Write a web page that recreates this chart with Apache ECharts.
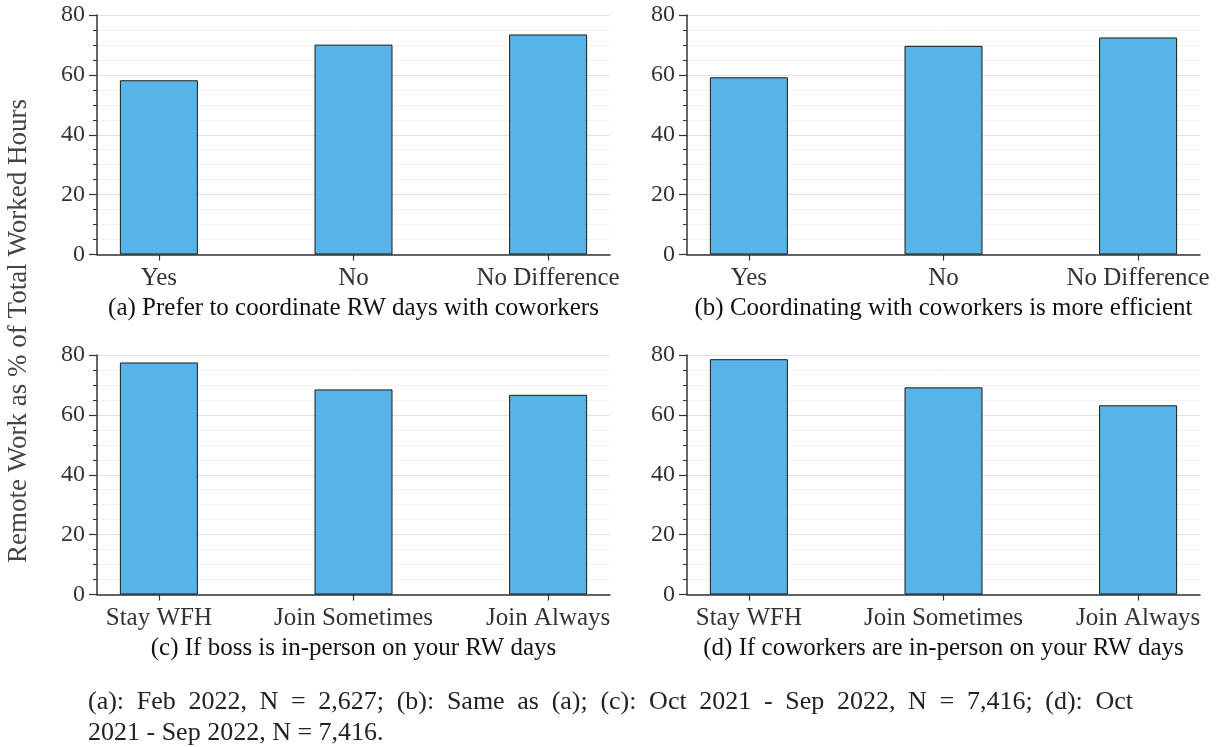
<!DOCTYPE html>
<html>
<head>
<meta charset="utf-8">
<script src="https://cdn.jsdelivr.net/npm/echarts@6/dist/echarts.min.js"></script>
<style>
  html, body { margin: 0; padding: 0; background: #ffffff; }
  #chart { width: 1222px; height: 747px; }
</style>
</head>
<body>
<div id="chart"></div>
<script>
// Response categories
const catsCoordinate = ['Yes', 'No', 'No Difference'];
const catsInPerson = ['Stay WFH', 'Join Sometimes', 'Join Always'];

// Remote work as % of total worked hours, per panel
const valuesA = [58.2, 70.1, 73.5];
const valuesB = [59.2, 69.7, 72.5];
const valuesC = [77.5, 68.5, 66.7];
const valuesD = [78.6, 69.2, 63.2];

// Panel captions
const captionA = '(a) Prefer to coordinate RW days with coworkers';
const captionB = '(b) Coordinating with coworkers is more efficient';
const captionC = '(c) If boss is in-person on your RW days';
const captionD = '(d) If coworkers are in-person on your RW days';

// Y axis range and ticks
const yMin = 0, yMax = 80, yStep = 20;

const yTitle = 'Remote Work as % of Total Worked Hours';
const noteLine1 = '(a): Feb 2022, N = 2,627; (b): Same as (a); (c): Oct 2021 - Sep 2022, N = 7,416; (d): Oct';
const noteLine2 = '2021 - Sep 2022, N = 7,416.';

const serif = '"Liberation Serif", "Times New Roman", serif';
const textColor = '#333333';
const axisColor = '#333333';
const labelSize = 25;

const panels = [
  { cats: catsCoordinate, values: valuesA, caption: captionA, left: 97,  top: 15 },
  { cats: catsCoordinate, values: valuesB, caption: captionB, left: 687, top: 15 },
  { cats: catsInPerson,   values: valuesC, caption: captionC, left: 97,  top: 355 },
  { cats: catsInPerson,   values: valuesD, caption: captionD, left: 687, top: 355 }
];

const positions = [1, 2, 3];

const grids = [], xAxes = [], yAxes = [], series = [];
panels.forEach((p, i) => {
  grids.push({ left: p.left, top: p.top, width: 513, height: 239.5 });
  xAxes.push({
    gridIndex: i,
    type: 'value',
    min: 0.682,
    max: 3.318,
    axisLine: { show: true, onZero: false, lineStyle: { color: axisColor, width: 1.5 } },
    axisTick: { show: true, customValues: positions, length: 6, lineStyle: { color: axisColor, width: 1.2 } },
    axisLabel: {
      customValues: positions,
      formatter: v => p.cats[Math.round(v) - 1],
      margin: 11,
      fontFamily: serif,
      fontSize: labelSize,
      color: textColor
    },
    splitLine: { show: false },
    name: p.caption,
    nameLocation: 'middle',
    nameGap: 41,
    nameTextStyle: { fontFamily: serif, fontSize: labelSize, color: '#111111', verticalAlign: 'top' }
  });
  yAxes.push({
    gridIndex: i,
    type: 'value',
    min: yMin,
    max: yMax,
    interval: yStep,
    axisLine: { show: true, lineStyle: { color: axisColor, width: 1.5 } },
    axisTick: { show: true, length: 8, lineStyle: { color: axisColor, width: 1.2 } },
    minorTick: { show: true, splitNumber: 4, length: 4, lineStyle: { color: axisColor, width: 1 } },
    axisLabel: { margin: 12, fontFamily: serif, fontSize: 24, color: textColor },
    splitLine: { show: true, lineStyle: { color: '#e0e0e0', width: 1 } },
    minorSplitLine: { show: true, lineStyle: { color: '#f2f2f2', width: 1 } }
  });
  series.push({
    type: 'bar',
    xAxisIndex: i,
    yAxisIndex: i,
    barWidth: 78,
    data: p.values.map((v, k) => [positions[k], v]),
    itemStyle: { color: '#56B4E9', borderColor: '#1a1a1a', borderWidth: 1 },
    emphasis: { disabled: true }
  });
});

// Justified first footnote line: words spread between the left and right margins
const noteFont = '26px "Liberation Serif", "Times New Roman", serif';
const noteLeft = 88, noteRight = 1133;
function justifiedWords(text, y) {
  const ctx = document.createElement('canvas').getContext('2d');
  ctx.font = noteFont;
  const words = text.split(' ');
  const widths = words.map(w => ctx.measureText(w).width);
  const total = widths.reduce((a, b) => a + b, 0);
  const gap = (noteRight - noteLeft - total) / (words.length - 1);
  let x = noteLeft;
  return words.map((w, k) => {
    const el = {
      type: 'text', x: x, y: y,
      style: { text: w, font: noteFont, fill: '#222222', verticalAlign: 'middle' }
    };
    x += widths[k] + gap;
    return el;
  });
}

const chart = echarts.init(document.getElementById('chart'), null, { renderer: 'canvas' });
chart.setOption({
  animation: false,
  backgroundColor: '#ffffff',
  grid: grids,
  xAxis: xAxes,
  yAxis: yAxes,
  series: series,
  graphic: [
    {
      type: 'text',
      x: 19,
      y: 331,
      rotation: Math.PI / 2,
      style: {
        text: yTitle, fontFamily: serif, fontSize: 27, fill: '#444444',
        align: 'center', verticalAlign: 'middle'
      }
    },
    ...justifiedWords(noteLine1, 702),
    {
      type: 'text',
      x: noteLeft,
      y: 733,
      style: { text: noteLine2, font: noteFont, fill: '#222222', verticalAlign: 'middle' }
    }
  ]
});
</script>
</body>
</html>
